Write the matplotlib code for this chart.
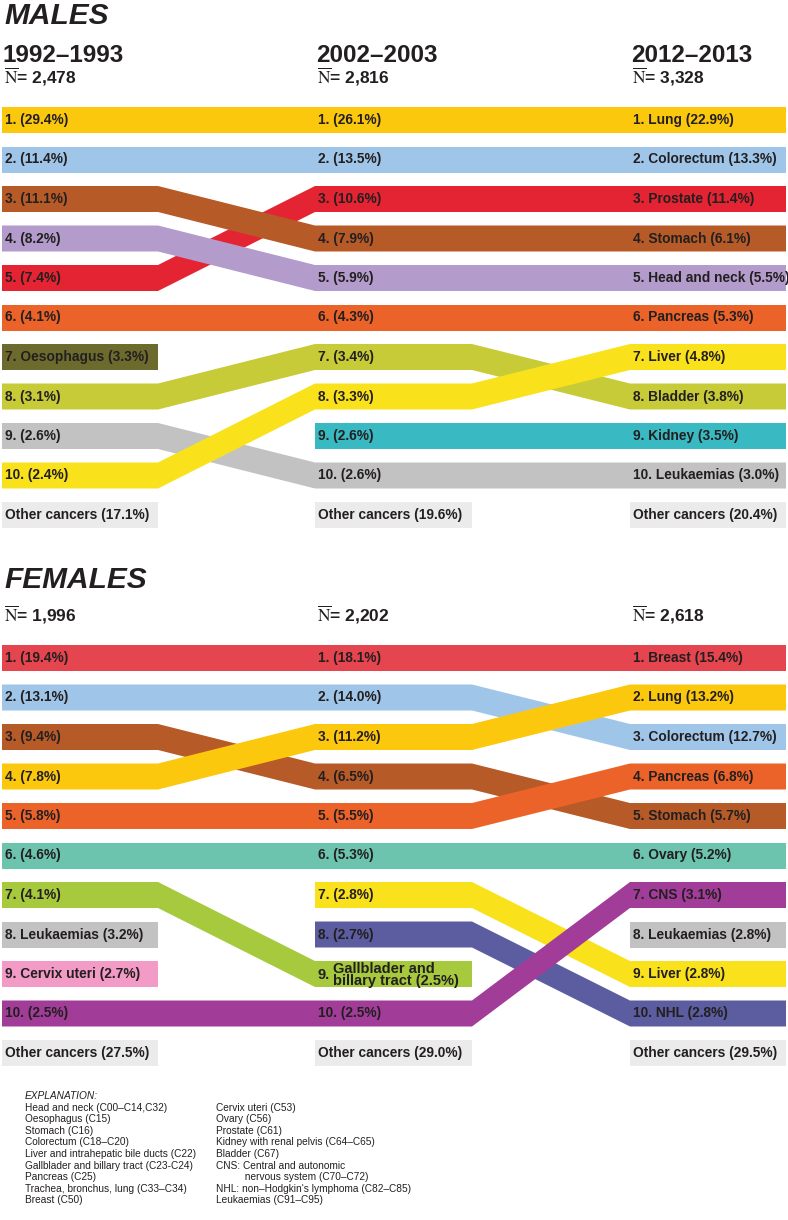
import matplotlib
matplotlib.use("Agg")
import matplotlib.pyplot as plt
from matplotlib.patches import Polygon

# =========================
# Data
# =========================
PERIODS = ["1992–1993", "2002–2003", "2012–2013"]

MALE_N = ["2,478", "2,816", "3,328"]
MALE_SITES = [
    ["Lung", "Colorectum", "Stomach", "Head and neck", "Prostate",
     "Pancreas", "Oesophagus", "Bladder", "Leukaemias", "Liver"],
    ["Lung", "Colorectum", "Prostate", "Stomach", "Head and neck",
     "Pancreas", "Bladder", "Liver", "Kidney", "Leukaemias"],
    ["Lung", "Colorectum", "Prostate", "Stomach", "Head and neck",
     "Pancreas", "Liver", "Bladder", "Kidney", "Leukaemias"],
]
MALE_PCT = [
    [29.4, 11.4, 11.1, 8.2, 7.4, 4.1, 3.3, 3.1, 2.6, 2.4],
    [26.1, 13.5, 10.6, 7.9, 5.9, 4.3, 3.4, 3.3, 2.6, 2.6],
    [22.9, 13.3, 11.4, 6.1, 5.5, 5.3, 4.8, 3.8, 3.5, 3.0],
]
MALE_OTHER = [17.1, 19.6, 20.4]

FEMALE_N = ["1,996", "2,202", "2,618"]
FEMALE_SITES = [
    ["Breast", "Colorectum", "Stomach", "Lung", "Pancreas",
     "Ovary", "Gallbladder", "Leukaemias", "Cervix uteri", "CNS"],
    ["Breast", "Colorectum", "Lung", "Stomach", "Pancreas",
     "Ovary", "Liver", "NHL", "Gallbladder", "CNS"],
    ["Breast", "Lung", "Colorectum", "Pancreas", "Stomach",
     "Ovary", "CNS", "Leukaemias", "Liver", "NHL"],
]
FEMALE_PCT = [
    [19.4, 13.1, 9.4, 7.8, 5.8, 4.6, 4.1, 3.2, 2.7, 2.5],
    [18.1, 14.0, 11.2, 6.5, 5.5, 5.3, 2.8, 2.7, 2.5, 2.5],
    [15.4, 13.2, 12.7, 6.8, 5.7, 5.2, 3.1, 2.8, 2.8, 2.8],
]
FEMALE_OTHER = [27.5, 29.0, 29.5]

DISPLAY = {"Gallbladder": "Gallblader and\nbillary tract"}

COLORS = {
    "Lung": "#fcc80e",
    "Colorectum": "#9fc6e9",
    "Stomach": "#b65b28",
    "Head and neck": "#b39ccb",
    "Prostate": "#e42433",
    "Pancreas": "#eb6329",
    "Oesophagus": "#6c6a2d",
    "Bladder": "#c6cb37",
    "Leukaemias": "#c2c2c2",
    "Liver": "#f9e21b",
    "Kidney": "#39b9c1",
    "Breast": "#e5454f",
    "Ovary": "#6cc4ae",
    "Gallbladder": "#a6c93d",
    "Cervix uteri": "#f29bc6",
    "CNS": "#a13d99",
    "NHL": "#5c5ca0",
}
OTHER_COLOR = "#ebebeb"

EXPL_LEFT = [
    "Head and neck (C00–C14,C32)",
    "Oesophagus (C15)",
    "Stomach (C16)",
    "Colorectum (C18–C20)",
    "Liver and intrahepatic bile ducts (C22)",
    "Gallblader and billary tract (C23-C24)",
    "Pancreas (C25)",
    "Trachea, bronchus, lung (C33–C34)",
    "Breast (C50)",
]
EXPL_RIGHT = [
    "Cervix uteri (C53)",
    "Ovary (C56)",
    "Prostate (C61)",
    "Kidney with renal pelvis (C64–C65)",
    "Bladder (C67)",
    "CNS: Central and autonomic",
    "          nervous system (C70–C72)",
    "NHL: non–Hodgkin's lymphoma (C82–C85)",
    "Leukaemias (C91–C95)",
]

# =========================
# Layout
# =========================
W, H = 788, 1220
COL_L = [2, 315, 630]
COL_R = [158, 472, 786]
PITCH = 39.5
BAR_H = 26
TXT = "#231f20"
FONT = "Liberation Sans"
LBL = 9.9

plt.rcParams["mathtext.fontset"] = "stix"

fig = plt.figure(figsize=(W / 100, H / 100), dpi=100)
ax = fig.add_axes([0, 0, 1, 1])
ax.set_xlim(0, W)
ax.set_ylim(H, 0)
ax.axis("off")


def label(x, y, s, size=LBL, **kw):
    ax.text(x, y, s, fontsize=size, fontweight="bold", family=FONT,
            color=TXT, va="center", zorder=5, **kw)


def draw_panel(title, sites, pcts, other, n_vals, y1, title_y, n_y, years,
               under=()):
    ax.text(COL_L[0] + 2, title_y, title, fontsize=21.5, fontweight="bold",
            fontstyle="italic", family=FONT, color=TXT, va="baseline")
    for c in range(3):
        if years:
            ax.text(COL_L[c] + 1, n_y - 21, PERIODS[c], fontsize=17.5,
                    fontweight="bold", family=FONT, color=TXT, va="baseline")
        ax.text(COL_L[c] + 2, n_y, r"$\overline{\mathrm{N}}$= " + n_vals[c],
                fontsize=12.5, fontweight="bold", family=FONT, color=TXT,
                va="baseline")

    def yc(rank):
        return y1 + (rank - 1) * PITCH

    # every site with its rank per period
    all_sites = []
    for col in sites:
        for s in col:
            if s not in all_sites:
                all_sites.append(s)

    # rising bands are drawn over falling ones (except those listed in `under`)
    bands = []
    for s in all_sites:
        ranks = [col.index(s) + 1 if s in col else None for col in sites]
        rise = 0
        for c in range(2):
            if ranks[c] and ranks[c + 1]:
                rise = max(rise, ranks[c] - ranks[c + 1])
        if s in under:
            rise = -99
        bands.append((rise, s, ranks))
    bands.sort(key=lambda b: b[0])

    for z, (rise, s, ranks) in enumerate(bands):
        c = 0
        while c < 3:
            if ranks[c] is None:
                c += 1
                continue
            run = [c]
            while run[-1] + 1 < 3 and ranks[run[-1] + 1] is not None:
                run.append(run[-1] + 1)
            top, bot = [], []
            for k in run:
                y = yc(ranks[k])
                top += [(COL_L[k], y - BAR_H / 2), (COL_R[k], y - BAR_H / 2)]
                bot += [(COL_L[k], y + BAR_H / 2), (COL_R[k], y + BAR_H / 2)]
            ax.add_patch(Polygon(top + bot[::-1], closed=True,
                                 facecolor=COLORS[s], edgecolor="none",
                                 zorder=2 + z * 0.01))
            c = run[-1] + 1

    for c in range(3):
        for i, (s, p) in enumerate(zip(sites[c], pcts[c])):
            rank = i + 1
            ends = c == 2 or s not in sites[c + 1]
            x = COL_L[c] + 3
            y = yc(rank)
            if ends:
                name = DISPLAY.get(s, s)
                if "\n" in name:
                    label(x, y + 1, f"{rank}.", size=10.5)
                    label(x + 15, y + 1, name + f" ({p:.1f}%)", size=10.5,
                          linespacing=0.75)
                    continue
                label(x, y, f"{rank}. {name} ({p:.1f}%)")
            else:
                label(x, y, f"{rank}. ({p:.1f}%)")

        y = yc(11)
        ax.add_patch(Polygon([(COL_L[c], y - BAR_H / 2), (COL_R[c], y - BAR_H / 2),
                              (COL_R[c], y + BAR_H / 2), (COL_L[c], y + BAR_H / 2)],
                             closed=True, facecolor=OTHER_COLOR, edgecolor="none",
                             zorder=2))
        label(COL_L[c] + 3, y, f"Other cancers ({other[c]:.1f}%)")


draw_panel("MALES", MALE_SITES, MALE_PCT, MALE_OTHER, MALE_N,
           y1=120, title_y=24, n_y=83, years=True, under=("Prostate",))
draw_panel("FEMALES", FEMALE_SITES, FEMALE_PCT, FEMALE_OTHER, FEMALE_N,
           y1=658, title_y=588, n_y=622, years=False)

# =========================
# Explanation
# =========================
ex_y = 1096
step = 11.6
ax.text(25, ex_y, "EXPLANATION:", fontsize=7.3, fontstyle="italic",
        family=FONT, color=TXT, va="center")
for i, line in enumerate(EXPL_LEFT):
    ax.text(25, ex_y + (i + 1) * step, line, fontsize=7.3,
            family=FONT, color=TXT, va="center")
for i, line in enumerate(EXPL_RIGHT):
    ax.text(216, ex_y + (i + 1) * step, line, fontsize=7.3,
            family=FONT, color=TXT, va="center")

fig.savefig("out.png", dpi=100)
